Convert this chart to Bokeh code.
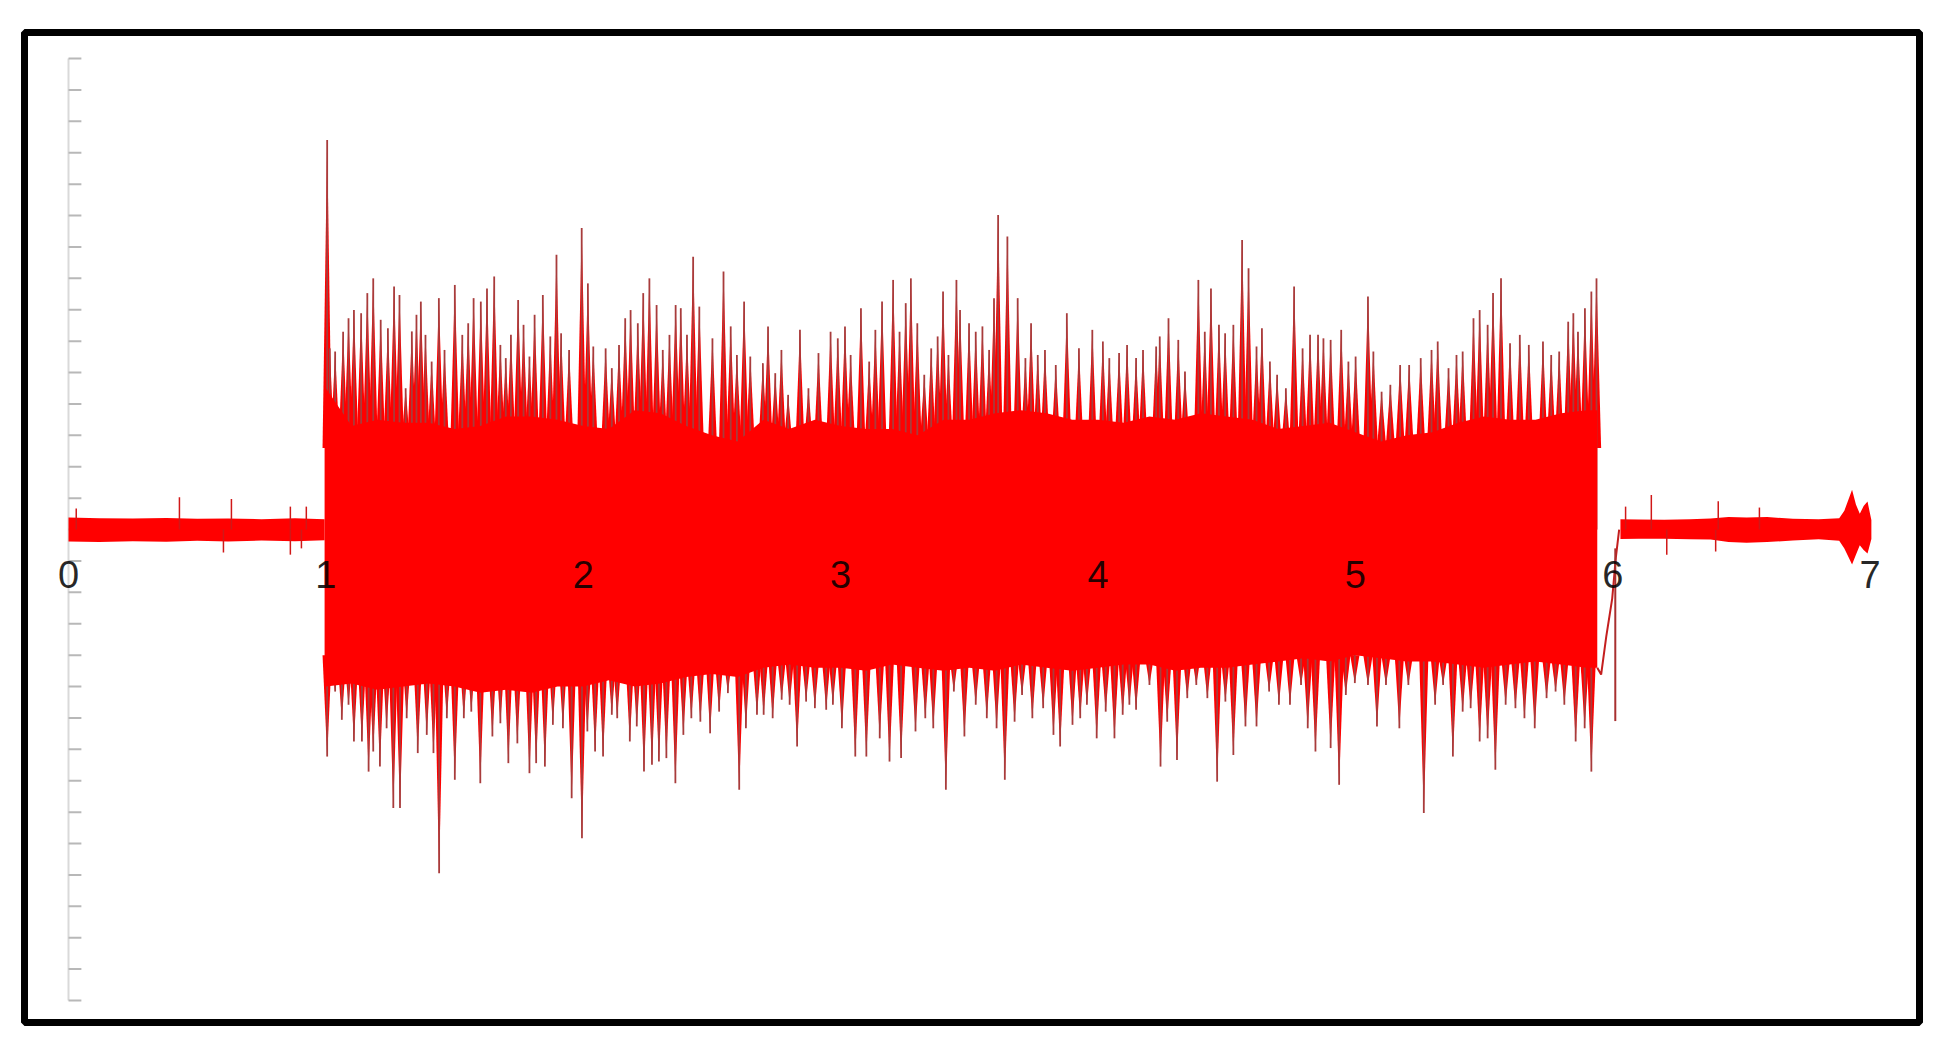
import numpy as np
from bokeh.plotting import figure
from bokeh.models import Range1d, FixedTicker
from bokeh.embed import file_html
from bokeh.resources import INLINE

# ---------------- axis ticks ----------------
x_ticks = [0, 1, 2, 3, 4, 5, 6, 7]
y_ticks = list(range(-15, 16))

# ---------------- quiet signal before the burst ----------------
pre_x   = [0.0, 0.12, 0.25, 0.38, 0.5, 0.62, 0.75, 0.88, 0.995]
pre_top = [0.38, 0.36, 0.35, 0.37, 0.34, 0.35, 0.33, 0.36, 0.33]
pre_bot = [-0.38, -0.40, -0.37, -0.39, -0.36, -0.38, -0.35, -0.37, -0.34]
pre_spk_x = [0.03, 0.431, 0.633, 0.862, 0.924, 0.602, 0.862, 0.905]
pre_spk_y = [0.67, 1.03, 0.97, 0.73, 0.73, -0.73, -0.80, -0.60]

# ---------------- quiet signal after the burst ----------------
post_x   = [6.03, 6.1, 6.2, 6.3, 6.38, 6.45, 6.52, 6.6, 6.7, 6.8, 6.88, 6.90, 6.93, 6.945, 6.96, 6.975, 6.99, 7.005]
post_top = [0.33, 0.32, 0.31, 0.33, 0.35, 0.40, 0.38, 0.40, 0.34, 0.33, 0.36, 0.6, 1.27, 0.8, 0.5, 0.75, 0.89, 0.3]
post_bot = [-0.30, -0.29, -0.29, -0.31, -0.32, -0.40, -0.42, -0.40, -0.35, -0.31, -0.36, -0.6, -1.11, -0.8, -0.5, -0.65, -0.76, -0.3]
post_spk_x = [6.05, 6.15, 6.41, 6.57, 6.21, 6.40]
post_spk_y = [0.73, 1.10, 0.90, 0.70, -0.80, -0.70]

# ---------------- dense core of the burst (1 – 6 s) ----------------
core_x = [0.995, 1.0, 1.1, 1.2, 1.3, 1.4, 1.5, 1.6, 1.7, 1.8, 1.9, 2.0, 2.1, 2.2, 2.3, 2.4, 2.5,
          2.6, 2.7, 2.8, 2.9, 3.0, 3.1, 3.2, 3.3, 3.4, 3.5, 3.6, 3.7, 3.8, 3.9, 4.0, 4.1, 4.2,
          4.3, 4.4, 4.5, 4.6, 4.7, 4.8, 4.9, 5.0, 5.1, 5.2, 5.3, 5.4, 5.5, 5.6, 5.7, 5.8, 5.9, 5.94]
core_top = [4.5, 4.5, 3.3, 3.5, 3.4, 3.4, 3.2, 3.3, 3.6, 3.6, 3.5, 3.3, 3.2, 3.8, 3.7, 3.3, 3.0,
            2.8, 3.5, 3.2, 3.5, 3.3, 3.2, 3.2, 3.0, 3.5, 3.5, 3.7, 3.8, 3.7, 3.5, 3.5, 3.4, 3.6,
            3.5, 3.7, 3.6, 3.5, 3.2, 3.3, 3.4, 3.1, 2.8, 3.0, 3.1, 3.4, 3.6, 3.5, 3.5, 3.7, 3.8, 3.8]
core_bot = [-5.0, -5.0, -4.9, -5.1, -5.0, -4.9, -5.0, -5.2, -5.1, -5.2, -5.0, -5.0, -4.8, -5.0, -4.9, -4.7, -4.6,
            -4.7, -4.4, -4.3, -4.4, -4.4, -4.5, -4.3, -4.4, -4.5, -4.4, -4.5, -4.3, -4.4, -4.5, -4.4, -4.3, -4.3,
            -4.5, -4.4, -4.4, -4.3, -4.2, -4.1, -4.2, -4.0, -4.1, -4.2, -4.2, -4.3, -4.4, -4.3, -4.2, -4.3, -4.4, -4.4]

# ---------------- positive peaks of the burst ----------------
up_x = [1.005, 1.015, 1.036, 1.067, 1.088, 1.109, 1.137, 1.161, 1.184, 1.213,
        1.241, 1.265, 1.286, 1.310, 1.334, 1.352, 1.369, 1.387, 1.411, 1.439,
        1.461, 1.501, 1.530, 1.553, 1.574, 1.602, 1.626, 1.654, 1.678, 1.699,
        1.719, 1.747, 1.768, 1.791, 1.811, 1.843, 1.872, 1.896, 1.914, 1.945,
        1.994, 2.018, 2.039, 2.087, 2.111, 2.139, 2.163, 2.184, 2.212, 2.233,
        2.257, 2.285, 2.309, 2.335, 2.359, 2.379, 2.403, 2.427, 2.451, 2.502,
        2.545, 2.573, 2.597, 2.625, 2.649, 2.698, 2.718, 2.746, 2.770, 2.796,
        2.842, 2.875, 2.914, 2.961, 2.989, 3.017, 3.039, 3.079, 3.111, 3.135,
        3.161, 3.204, 3.229, 3.253, 3.273, 3.298, 3.325, 3.352, 3.377, 3.398,
        3.419, 3.450, 3.464, 3.499, 3.525, 3.551, 3.577, 3.596, 3.612,
        3.648, 3.688, 3.718, 3.740, 3.766, 3.794, 3.836, 3.879, 3.926, 3.978,
        4.019, 4.044, 4.082, 4.113, 4.148, 4.175, 4.226, 4.240, 4.274, 4.312,
        4.338, 4.390, 4.415, 4.439, 4.470, 4.494, 4.526, 4.560, 4.585, 4.616,
        4.637, 4.668, 4.696, 4.730, 4.762, 4.795, 4.824, 4.855, 4.876, 4.904,
        4.945, 4.973, 5.001, 5.049, 5.070, 5.102, 5.136, 5.174, 5.209, 5.254,
        5.296, 5.320, 5.362, 5.393, 5.417, 5.459, 5.483, 5.514, 5.535, 5.566,
        5.601, 5.639, 5.674, 5.729, 5.761, 5.792, 5.827, 5.847, 5.865, 5.892,
        5.917, 5.937]
up_y = [12.41, 5.77, 5.67, 6.30, 6.73, 6.99, 6.89, 7.53, 8.00, 6.68,
        6.41, 7.74, 7.47, 4.50, 6.31, 6.84, 7.26, 6.20, 5.35, 7.37,
        5.72, 7.79, 6.20, 6.57, 7.37, 7.26, 7.68, 8.06, 5.88, 5.46,
        6.20, 7.31, 6.52, 5.51, 6.84, 7.47, 6.15, 8.75, 6.25, 5.72,
        9.60, 7.84, 5.83, 5.77, 5.14, 5.88, 6.73, 6.99, 6.57, 7.53,
        8.00, 7.15, 5.72, 6.20, 7.15, 7.05, 6.20, 8.69, 7.10, 6.09,
        8.22, 6.47, 5.56, 7.26, 5.51, 5.30, 6.47, 4.98, 5.72, 4.29,
        6.36, 4.50, 5.62, 6.30, 6.09, 6.47, 5.56, 7.05, 5.35, 6.36,
        7.26, 7.95, 6.30, 7.21, 8.00, 6.57, 4.93, 5.77, 6.15, 7.58,
        5.56, 7.95, 6.99, 6.57, 6.30, 6.47, 5.72, 7.37, 10.02,
        9.33, 7.37, 5.46, 6.57, 5.56, 5.72, 5.24, 6.89, 5.77, 6.36,
        5.99, 5.46, 5.62, 5.88, 5.46, 5.72, 5.83, 6.15, 6.73, 6.04,
        5.03, 7.95, 6.30, 7.68, 6.52, 6.25, 6.52, 9.22, 8.32, 5.83,
        6.41, 5.35, 4.93, 4.50, 7.74, 5.77, 6.20, 6.20, 6.09, 6.04,
        6.36, 5.35, 5.51, 7.42, 5.67, 4.39, 4.61, 5.24, 5.24, 5.46,
        5.72, 5.99, 5.14, 5.56, 5.67, 6.73, 6.99, 6.52, 7.53, 8.00,
        5.93, 6.20, 5.88, 5.99, 5.56, 5.67, 6.62, 6.89, 6.30, 7.05,
        7.58, 8.00]

# ---------------- negative peaks of the burst ----------------
dn_x = [1.005, 1.036, 1.062, 1.088, 1.109, 1.140, 1.166, 1.184, 1.210, 1.236,
        1.262, 1.288, 1.314, 1.357, 1.392, 1.418, 1.440, 1.470, 1.501, 1.536,
        1.565, 1.600, 1.647, 1.678, 1.709, 1.744, 1.791, 1.817, 1.851, 1.882,
        1.921, 1.955, 1.995, 2.016, 2.046, 2.077, 2.111, 2.132, 2.181, 2.208,
        2.236, 2.267, 2.294, 2.323, 2.358, 2.389, 2.420, 2.455, 2.493, 2.528,
        2.562, 2.606, 2.632, 2.675, 2.701, 2.736, 2.771, 2.802, 2.831, 2.866,
        2.900, 2.944, 2.970, 3.005, 3.057, 3.100, 3.152, 3.190, 3.235, 3.291,
        3.329, 3.360, 3.409, 3.440, 3.481, 3.525, 3.568, 3.606,
        3.638, 3.676, 3.705, 3.745, 3.787, 3.827, 3.853, 3.901, 3.931, 3.957,
        3.995, 4.030, 4.064, 4.096, 4.122, 4.148, 4.200, 4.243, 4.269, 4.307,
        4.347, 4.382, 4.425, 4.463, 4.495, 4.526, 4.573, 4.616, 4.665, 4.703,
        4.746, 4.789, 4.815, 4.845, 4.904, 4.937, 4.963, 4.998, 5.049, 5.084,
        5.119, 5.171, 5.206, 5.266, 5.310, 5.341, 5.379, 5.417, 5.448, 5.483,
        5.514, 5.544, 5.584, 5.622, 5.657, 5.697, 5.743, 5.778, 5.812, 5.856,
        5.891, 5.917]
dn_y = [-7.23, -5.16, -6.06, -5.58, -6.75, -6.75, -7.71, -7.07, -7.55, -6.33,
        -8.87, -8.87, -6.01, -7.12, -6.54, -7.12, -10.95, -6.01, -7.97, -6.01,
        -5.80, -8.08, -6.59, -6.17, -7.44, -6.81, -7.76, -7.44, -7.55, -6.22,
        -6.33, -8.56, -9.83, -6.43, -7.07, -7.23, -5.90, -6.01, -6.75, -6.27,
        -7.71, -7.49, -7.39, -7.28, -8.08, -6.54, -6.01, -6.12, -6.49, -5.80,
        -5.21, -8.29, -6.33, -5.90, -5.90, -6.01, -5.42, -5.58, -6.91, -5.48,
        -5.69, -5.74, -5.58, -6.33, -7.23, -7.23, -6.65, -7.39, -7.28, -6.43,
        -6.01, -6.33, -8.29, -5.16, -6.59, -5.58, -6.01, -6.33,
        -7.97, -6.12, -5.27, -6.01, -5.69, -6.54, -6.91, -6.22, -6.01, -5.58,
        -6.65, -5.80, -6.65, -5.90, -5.58, -5.74, -4.95, -7.55, -6.12, -7.34,
        -5.37, -4.95, -5.37, -8.03, -5.48, -7.18, -6.27, -6.27, -5.16, -5.58,
        -5.58, -4.95, -6.33, -7.07, -6.96, -8.13, -5.27, -4.89, -4.95, -6.27,
        -4.95, -6.33, -4.95, -9.03, -5.58, -4.95, -7.23, -5.80, -5.69, -6.75,
        -6.65, -7.65, -5.58, -5.69, -6.01, -6.33, -5.37, -5.16, -5.58, -6.75,
        -6.33, -7.71]

# ---------------- transient when the burst stops (~6 s) ----------------
tail_x = [5.94, 5.955, 5.975, 5.998, 6.012, 6.025]
tail_y = [-4.4, -4.62, -3.4, -2.2, -0.9, 0.0]
kick_x = [6.010]
kick_top = [-0.6]
kick_bot = [-6.1]

assert len(up_x) == len(up_y) and len(dn_x) == len(dn_y)

RED = "#ff0000"
DARK = "#a83c3c"

p = figure(width=1931, height=1036,
           x_range=Range1d(-0.171, 7.192), y_range=Range1d(-15.70, 15.83),
           output_backend="svg", toolbar_location=None,
           min_border_left=24, min_border_right=12, min_border_top=32, min_border_bottom=14)
p.background_fill_color = "white"
p.border_fill_color = "white"
p.outline_line_color = "black"
p.outline_line_width = 7
p.grid.visible = False

# y axis drawn in data space: light line with short inward ticks, no labels
p.yaxis.visible = False
p.segment(x0=[0], y0=[y_ticks[0]], x1=[0], y1=[y_ticks[-1]], line_color="#d9d9d9", line_width=2)
p.segment(x0=[0] * len(y_ticks), y0=y_ticks, x1=[0.05] * len(y_ticks), y1=y_ticks,
          line_color="#b8b8b8", line_width=2)

# peaks: narrow red mountains + thin dark needles
w = 0.018
p.patches([[x - w, x, x + w] for x in up_x], [[2.6, y, 2.6] for y in up_y],
          fill_color=RED, line_color=None)
p.patches([[x - w, x, x + w] for x in dn_x], [[-4.0, y, -4.0] for y in dn_y],
          fill_color=RED, line_color=None)
p.segment(x0=up_x, y0=[0] * len(up_x), x1=up_x, y1=up_y, line_color=DARK, line_width=1.8)
p.segment(x0=dn_x, y0=[0] * len(dn_x), x1=dn_x, y1=dn_y, line_color=DARK, line_width=1.8)

# dense core
p.varea(x=core_x, y1=core_bot, y2=core_top, fill_color=RED)

# quiet parts
p.varea(x=pre_x, y1=pre_bot, y2=pre_top, fill_color=RED)
p.segment(x0=pre_spk_x, y0=[0] * len(pre_spk_x), x1=pre_spk_x, y1=pre_spk_y,
          line_color="#d01818", line_width=1.5)
p.varea(x=post_x, y1=post_bot, y2=post_top, fill_color=RED)
p.segment(x0=post_spk_x, y0=[0] * len(post_spk_x), x1=post_spk_x, y1=post_spk_y,
          line_color="#d01818", line_width=1.5)

# transient
p.line(tail_x, tail_y, line_color="#c41e1e", line_width=2)
p.segment(x0=kick_x, y0=kick_top, x1=kick_x, y1=kick_bot, line_color="#a83030", line_width=2)

# x axis along the zero line, labels only
xa = p.xaxis[0]
xa.fixed_location = 0
xa.ticker = FixedTicker(ticks=x_ticks)
xa.axis_line_color = None
xa.major_tick_line_color = None
xa.minor_tick_line_color = None
xa.major_tick_in = 0
xa.major_tick_out = 0
xa.major_label_standoff = 31
xa.major_label_text_font = "Liberation Sans"
xa.major_label_text_font_size = "38px"
xa.major_label_text_color = "#000000"
xa.major_label_text_alpha = 0.85

open("out.html", "w").write(file_html(p, INLINE))
